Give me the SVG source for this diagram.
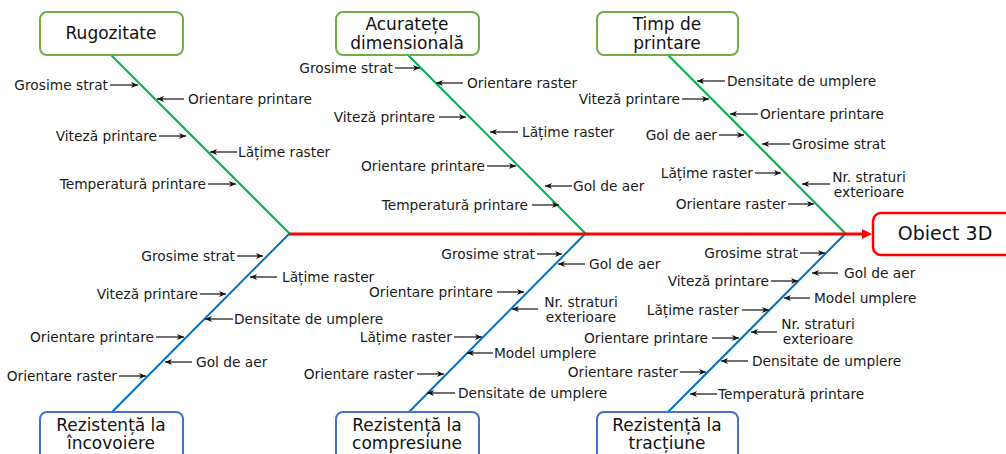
<svg xmlns="http://www.w3.org/2000/svg" width="1006" height="454" viewBox="0 0 1006 454">
<defs>
<marker id="ah" markerUnits="userSpaceOnUse" markerWidth="8" markerHeight="8" refX="7" refY="4" orient="auto">
<path d="M0,1 L7,4 L0,7 L2,4 z" fill="#111"/>
</marker>
</defs>
<style>
.lbl{font-family:"DejaVu Sans",Verdana,sans-serif;font-size:13.75px;fill:#1a1a1a}
.ttl{font-family:"DejaVu Sans",Verdana,sans-serif;font-size:17px;fill:#111;text-anchor:middle}
.head{font-family:"DejaVu Sans",Verdana,sans-serif;font-size:19px;fill:#111;text-anchor:middle}
.e{text-anchor:end}
.m{text-anchor:middle}
.ar{stroke:#111;stroke-width:1.2;fill:none;marker-end:url(#ah)}
.gb{fill:#fff;stroke:#70AD47;stroke-width:2}
.bb{fill:#fff;stroke:#4472C4;stroke-width:2}
.gl{stroke:#00B050;stroke-width:2;fill:none}
.bl{stroke:#0070C0;stroke-width:2;fill:none}
</style>
<rect width="1006" height="454" fill="#fff"/>
<g id="connectors">
<line class="gl" x1="111" y1="55" x2="290" y2="234"/>
<line class="gl" x1="408" y1="55" x2="586" y2="234"/>
<line class="gl" x1="668" y1="55" x2="846" y2="234"/>
<line class="bl" x1="289" y1="234" x2="112" y2="412"/>
<line class="bl" x1="585" y1="234" x2="409" y2="412"/>
<line class="bl" x1="845" y1="234" x2="668" y2="412"/>
<line x1="289" y1="234" x2="863" y2="234" stroke="#FF0000" stroke-width="3"/>
<polygon points="862,229 872,234 862,239" fill="#FF0000"/>
</g>
<g id="head">
<rect x="873" y="213" width="150" height="42" rx="8" fill="#fff" stroke="#FF0000" stroke-width="2.5"/>
<text class="head" x="945" y="240">Obiect 3D</text>
</g>
<g id="rugozitate">
<rect class="gb" x="40" y="12" width="143" height="43" rx="7"/>
<text class="ttl" x="111" y="39">Rugozitate</text>
</g>
<g id="acuratete">
<rect class="gb" x="336" y="12" width="143" height="43" rx="7"/>
<text class="ttl" x="407" y="30">Acuratețe</text>
<text class="ttl" x="407" y="49">dimensională</text>
</g>
<g id="timp">
<rect class="gb" x="597" y="12" width="141" height="43" rx="7"/>
<text class="ttl" x="667" y="30">Timp de</text>
<text class="ttl" x="667" y="49">printare</text>
</g>
<g id="incovoiere">
<rect class="bb" x="40" y="412" width="143" height="50" rx="7"/>
<text class="ttl" x="111" y="431">Rezistență la</text>
<text class="ttl" x="111" y="449">încovoiere</text>
</g>
<g id="compresiune">
<rect class="bb" x="336" y="412" width="143" height="50" rx="7"/>
<text class="ttl" x="407" y="431">Rezistență la</text>
<text class="ttl" x="407" y="449">compresiune</text>
</g>
<g id="tractiune">
<rect class="bb" x="597" y="412" width="141" height="50" rx="7"/>
<text class="ttl" x="667" y="431">Rezistență la</text>
<text class="ttl" x="667" y="449">tracțiune</text>
</g>
<g id="causes-rugozitate">
<text class="lbl e" x="108" y="90">Grosime strat</text><line class="ar" x1="110" y1="85" x2="138" y2="85"/>
<text class="lbl" x="188" y="104">Orientare printare</text><line class="ar" x1="184" y1="99" x2="157" y2="99"/>
<text class="lbl e" x="157" y="141">Viteză printare</text><line class="ar" x1="159" y1="136" x2="186" y2="136"/>
<text class="lbl" x="238" y="157">Lățime raster</text><line class="ar" x1="237" y1="152" x2="210" y2="152"/>
<text class="lbl e" x="206" y="189">Temperatură printare</text><line class="ar" x1="208" y1="184" x2="236" y2="184"/>
</g>
<g id="causes-acuratete">
<text class="lbl e" x="393" y="73">Grosime strat</text><line class="ar" x1="395" y1="68" x2="420" y2="68"/>
<text class="lbl" x="467" y="88">Orientare raster</text><line class="ar" x1="463" y1="83" x2="436" y2="83"/>
<text class="lbl e" x="435" y="122">Viteză printare</text><line class="ar" x1="439" y1="117" x2="466" y2="117"/>
<text class="lbl" x="522" y="137">Lățime raster</text><line class="ar" x1="518" y1="132" x2="490" y2="132"/>
<text class="lbl e" x="485" y="171">Orientare printare</text><line class="ar" x1="487" y1="166" x2="516" y2="166"/>
<text class="lbl" x="573" y="191">Gol de aer</text><line class="ar" x1="572" y1="186" x2="545" y2="186"/>
<text class="lbl e" x="528" y="210">Temperatură printare</text><line class="ar" x1="532" y1="205" x2="559" y2="205"/>
</g>
<g id="causes-timp">
<text class="lbl" x="727" y="86">Densitate de umplere</text><line class="ar" x1="725" y1="81" x2="697" y2="81"/>
<text class="lbl e" x="680" y="104">Viteză printare</text><line class="ar" x1="682" y1="99" x2="709" y2="99"/>
<text class="lbl" x="760" y="119">Orientare printare</text><line class="ar" x1="758" y1="114" x2="730" y2="114"/>
<text class="lbl e" x="717" y="140">Gol de aer</text><line class="ar" x1="719" y1="135" x2="744" y2="135"/>
<text class="lbl" x="792" y="149">Grosime strat</text><line class="ar" x1="790" y1="144" x2="762" y2="144"/>
<text class="lbl e" x="753" y="178">Lățime raster</text><line class="ar" x1="755" y1="173" x2="781" y2="173"/>
<text class="lbl m" x="869" y="182">Nr. straturi</text><text class="lbl m" x="869" y="197">exterioare</text><line class="ar" x1="830" y1="184" x2="802" y2="184"/>
<text class="lbl e" x="786" y="209">Orientare raster</text><line class="ar" x1="788" y1="204" x2="814" y2="204"/>
</g>
<g id="causes-incovoiere">
<text class="lbl e" x="235" y="261">Grosime strat</text><line class="ar" x1="237" y1="256" x2="263" y2="256"/>
<text class="lbl" x="282" y="282">Lățime raster</text><line class="ar" x1="277" y1="277" x2="250" y2="277"/>
<text class="lbl e" x="198" y="299">Viteză printare</text><line class="ar" x1="200" y1="294" x2="226" y2="294"/>
<text class="lbl" x="234" y="324">Densitate de umplere</text><line class="ar" x1="233" y1="319" x2="205" y2="319"/>
<text class="lbl e" x="154" y="342">Orientare printare</text><line class="ar" x1="156" y1="337" x2="184" y2="337"/>
<text class="lbl" x="196" y="367">Gol de aer</text><line class="ar" x1="192" y1="362" x2="165" y2="362"/>
<text class="lbl e" x="117" y="381">Orientare raster</text><line class="ar" x1="119" y1="376" x2="146" y2="376"/>
</g>
<g id="causes-compresiune">
<text class="lbl e" x="535" y="259">Grosime strat</text><line class="ar" x1="537" y1="254" x2="562" y2="254"/>
<text class="lbl" x="589" y="269">Gol de aer</text><line class="ar" x1="585" y1="264" x2="558" y2="264"/>
<text class="lbl e" x="493" y="297">Orientare printare</text><line class="ar" x1="497" y1="292" x2="524" y2="292"/>
<text class="lbl m" x="581" y="307">Nr. straturi</text><text class="lbl m" x="581" y="322">exterioare</text><line class="ar" x1="538" y1="309" x2="512" y2="309"/>
<text class="lbl e" x="452" y="342">Lățime raster</text><line class="ar" x1="454" y1="337" x2="482" y2="337"/>
<text class="lbl" x="494" y="358">Model umplere</text><line class="ar" x1="493" y1="353" x2="467" y2="353"/>
<text class="lbl e" x="414" y="379">Orientare raster</text><line class="ar" x1="417" y1="374" x2="444" y2="374"/>
<text class="lbl" x="458" y="398">Densitate de umplere</text><line class="ar" x1="455" y1="393" x2="427" y2="393"/>
</g>
<g id="causes-tractiune">
<text class="lbl e" x="798" y="258">Grosime strat</text><line class="ar" x1="800" y1="253" x2="825" y2="253"/>
<text class="lbl" x="844" y="278">Gol de aer</text><line class="ar" x1="838" y1="273" x2="812" y2="273"/>
<text class="lbl e" x="769" y="286">Viteză printare</text><line class="ar" x1="771" y1="281" x2="798" y2="281"/>
<text class="lbl" x="814" y="303">Model umplere</text><line class="ar" x1="810" y1="298" x2="784" y2="298"/>
<text class="lbl e" x="739" y="315">Lățime raster</text><line class="ar" x1="742" y1="310" x2="769" y2="310"/>
<text class="lbl m" x="818" y="329">Nr. straturi</text><text class="lbl m" x="818" y="344">exterioare</text><line class="ar" x1="777" y1="332" x2="751" y2="332"/>
<text class="lbl e" x="708" y="343">Orientare printare</text><line class="ar" x1="712" y1="338" x2="739" y2="338"/>
<text class="lbl" x="752" y="366">Densitate de umplere</text><line class="ar" x1="748" y1="361" x2="721" y2="361"/>
<text class="lbl e" x="678" y="377">Orientare raster</text><line class="ar" x1="680" y1="372" x2="706" y2="372"/>
<text class="lbl" x="718" y="399">Temperatură printare</text><line class="ar" x1="717" y1="394" x2="690" y2="394"/>
</g>
</svg>
